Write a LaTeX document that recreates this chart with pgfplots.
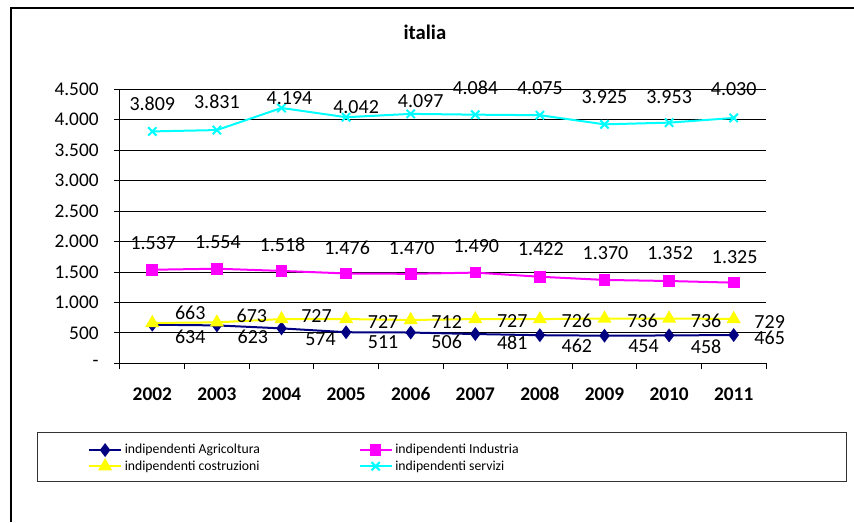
\documentclass[border=0pt]{standalone}
\usepackage{fontspec}
\setmainfont{Carlito}
\usepackage{pgfplots}
\usepackage{pgfplotstable}
\pgfplotsset{compat=1.18}

\definecolor{agri}{RGB}{0,0,128}
\definecolor{indu}{RGB}{255,0,255}
\definecolor{cost}{RGB}{255,255,0}
\definecolor{serv}{RGB}{0,255,255}

% x = category index, y = value, lab = printed label, dx/dy = label offset in px
\pgfplotstableread{
x y lab dx dy
0 634 634 38 -12
1 623 623 36 -11
2 574 574 39 -11
3 511 511 37 -10
4 506 506 36 -9
5 481 481 37 -9
6 462 462 37 -11
7 454 454 39 -10
8 458 458 37 -11
9 465 465 36 -3
}\agri
\pgfplotstableread{
x y lab dx dy
0 1537 1.537 1 27
1 1554 1.554 1 27
2 1518 1.518 1 26
3 1476 1.476 1 26
4 1470 1.470 1 26
5 1490 1.490 1 27
6 1422 1.422 1 28
7 1370 1.370 1 27
8 1352 1.352 1 28
9 1325 1.325 1 26
}\indu
\pgfplotstableread{
x y lab dx dy
0 663 663 38 10
1 673 673 35 7
2 727 727 35 3
3 727 727 37 -3
4 712 712 36 -2
5 727 727 37 -2
6 726 726 37 -2
7 736 736 38 -2
8 736 736 37 -2
9 729 729 36 -3
}\cost
\pgfplotstableread{
x y lab dx dy
0 3809 3.809 0 28
1 3831 3.831 0 28
2 4194 4.194 8 10
3 4042 4.042 10 10
4 4097 4.097 10 13
5 4084 4.084 0 27
6 4075 4.075 0 27
7 3925 3.925 0 27
8 3953 3.953 0 26
9 4030 4.030 0 29
}\serv

\pgfplotsset{
  lab/.style={
    nodes near coords,
    point meta=explicit symbolic,
    visualization depends on={\thisrow{dx}\as\dx},
    visualization depends on={\thisrow{dy}\as\dy},
    every node near coord/.append style={anchor=center, text=black,
      font=\fontsize{15}{16}\selectfont, inner sep=0pt,
      xshift={0.75*\dx}, yshift={0.75*\dy}},
  },
}

\begin{document}
\begin{tikzpicture}
\begin{scope}[x=0.75pt,y=0.75pt]
\useasboundingbox (0,0) rectangle (854,522);
\draw[line width=0.8pt] (11,0) -- (11,514) -- (854,514);
\draw[line width=0.6pt, draw=black!80] (37,41) rectangle (846,90);
\end{scope}
\begin{axis}[
  at={(90pt,119pt)}, anchor=south west,
  scale only axis, width=484.5pt, height=205.5pt,
  xmin=-0.5, xmax=9.5, ymin=0, ymax=4500,
  axis x line*=bottom, axis y line*=left,
  axis line style={line width=0.75pt, -},
  xtick={0,...,9},
  xticklabels={2002,2003,2004,2005,2006,2007,2008,2009,2010,2011},
  major x tick style={draw=none},
  minor xtick={-0.5,0.5,...,9.5},
  minor tick length=4.5pt,
  x tick label style={font=\bfseries\fontsize{14.5}{16}\selectfont, yshift=-10pt},
  ytick={0,500,...,4500},
  yticklabels={-,500,1.000,1.500,2.000,2.500,3.000,3.500,4.000,4.500},
  y tick label style={font=\fontsize{14.5}{16}\selectfont, xshift=-8pt},
  tick align=outside, major tick length=4.5pt,
  tick style={black, line width=0.75pt},
  ymajorgrids, grid style={black, line width=0.75pt},
  clip=false,
  title={\bfseries italia},
  title style={font=\fontsize{15.5}{18}\selectfont, at={(axis description cs:0.472,1.18)}, anchor=center},
  legend columns=2,
  legend cell align=left,
  legend style={draw=none, fill=none, at={(axis description cs:-0.056,-0.275)}, anchor=north west,
    font=\fontsize{10.3}{12}\selectfont, row sep=-0.5pt,
    /tikz/every even column/.append style={column sep=72pt}},
  legend image code/.code={
    \draw[mark repeat=2,mark phase=2] plot coordinates {(0pt,0pt) (12pt,0pt) (24pt,0pt)};
  },
]
\addplot[agri, line width=1.5pt, mark=diamond*, mark size=4pt, mark options={solid}, lab]
  table[x=x, y=y, meta=lab] {\agri};
\addplot[indu, line width=1.5pt, mark=square*, mark size=3.6pt, lab]
  table[x=x, y=y, meta=lab] {\indu};
\addplot[cost, line width=1.5pt, mark=triangle*, mark size=4.6pt, lab]
  table[x=x, y=y, meta=lab] {\cost};
\addplot[serv, line width=1.5pt, mark=x, mark size=4.4pt, lab]
  table[x=x, y=y, meta=lab] {\serv};
\legend{indipendenti Agricoltura, indipendenti Industria, indipendenti costruzioni, indipendenti servizi}
\end{axis}
\end{tikzpicture}
\end{document}
